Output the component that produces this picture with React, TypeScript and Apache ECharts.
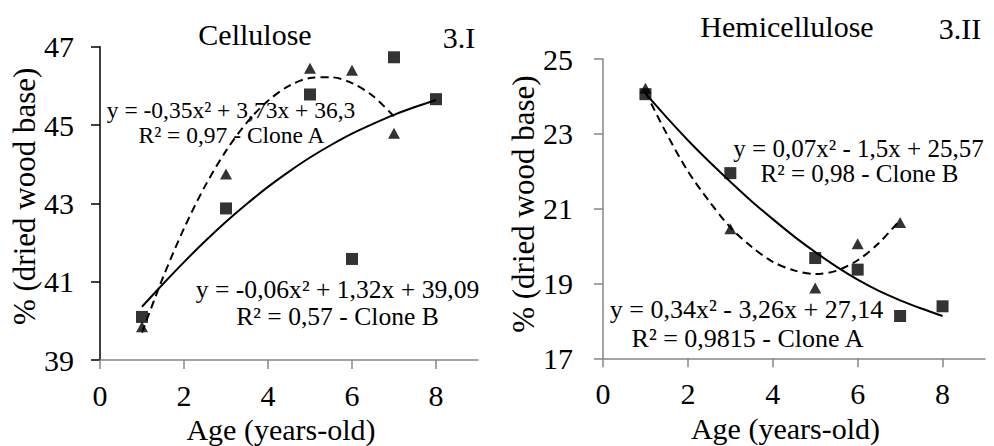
import React, { useEffect, useRef } from "react";
import * as echarts from "echarts";

const FONT = "Times New Roman, Liberation Serif, serif";

// Ages (x) of the measured points
const agesB = [1, 3, 5, 6, 7, 8];
const agesA = [1, 3, 5, 6, 7];

// Cellulose (3.I)
const celluloseB = [40.1, 42.87, 45.78, 41.58, 46.73, 45.66];
const celluloseA = [39.85, 43.75, 46.45, 46.4, 44.79];
// Hemicellulose (3.II)
const hemiB = [24.06, 21.95, 19.68, 19.37, 18.13, 18.39];
const hemiA = [24.22, 20.46, 18.88, 20.06, 20.63];

// Trend lines
const trendXB = [1, 1.5, 2, 2.5, 3, 3.5, 4, 4.5, 5, 5.5, 6, 6.5, 7, 7.5, 8];
const trendXA = [1, 1.5, 2, 2.5, 3, 3.5, 4, 4.5, 5, 5.5, 6, 6.5, 7];
const celluloseTrendB = [40.36, 40.94, 41.5, 42.03, 42.53, 42.99, 43.42, 43.81, 44.17, 44.49, 44.78, 45.03, 45.26, 45.46, 45.64];
const celluloseTrendA = [39.7, 41.11, 42.36, 43.44, 44.34, 45.07, 45.62, 46.0, 46.2, 46.22, 46.07, 45.74, 45.22];
const hemiTrendB = [24.08, 23.44, 22.83, 22.26, 21.72, 21.2, 20.72, 20.26, 19.84, 19.45, 19.1, 18.8, 18.55, 18.33, 18.13];
const hemiTrendA = [24.12, 23.0, 22.0, 21.2, 20.5, 19.98, 19.58, 19.35, 19.25, 19.34, 19.62, 20.08, 20.7];

const xTicks = [0, 2, 4, 6, 8];
const celluloseTicks = [39, 41, 43, 45, 47];
const hemiTicks = [17, 19, 21, 23, 25];

const zip = (xs: number[], ys: number[]) => xs.map((x, i) => [x, ys[i]]);

function txt(text: string, x: number, y: number, size: number) {
  return {
    type: "text",
    x,
    y,
    silent: true,
    style: {
      text,
      fill: "#000",
      fontSize: size,
      fontFamily: FONT,
      align: "center",
      verticalAlign: "middle",
      textAlign: "center",
      textVerticalAlign: "middle",
    },
  };
}

export default function App() {
  const ref = useRef<HTMLDivElement>(null);
  useEffect(() => {
    if (!ref.current) return;
    const chart = echarts.init(ref.current, undefined, { renderer: "svg" });
    const grey = "#868686";
    const xAxisBase = (gridIndex: number, color: string, gap: number, pad: number[]) => ({
      type: "value",
      gridIndex,
      min: 0,
      max: 9,
      name: "Age (years-old)",
      nameLocation: "middle",
      nameGap: gap,
      nameTextStyle: { fontFamily: FONT, fontSize: 30, color: "#000", padding: pad },
      axisLine: { show: true, lineStyle: { color, width: 1.5 } },
      axisTick: { show: true, inside: false, length: 9, customValues: xTicks, lineStyle: { color, width: 1.5 } },
      axisLabel: { customValues: xTicks, fontFamily: FONT, fontSize: 30, color: "#000", margin: 20 },
      splitLine: { show: false },
    });
    const yAxisBase = (gridIndex: number, min: number, max: number, ticks: number[], color: string, gap: number, pad: number[], margin: number) => ({
      type: "value",
      gridIndex,
      min,
      max,
      name: "% (dried wood base)",
      nameLocation: "middle",
      nameGap: gap,
      nameTextStyle: { fontFamily: FONT, fontSize: 31, color: "#000", padding: pad },
      axisLine: { show: true, lineStyle: { color, width: 1.5 } },
      axisTick: { show: true, inside: false, length: 9, customValues: ticks, lineStyle: { color, width: 1.5 } },
      axisLabel: { customValues: ticks, fontFamily: FONT, fontSize: 30, color: "#000", margin },
      splitLine: { show: false },
    });
    const lineS = (xi: number, xs: number[], ys: number[], dashed: boolean) => ({
      type: "line",
      xAxisIndex: xi,
      yAxisIndex: xi,
      data: zip(xs, ys),
      smooth: 0.3,
      symbol: "none",
      lineStyle: { color: "#000", width: 2, type: dashed ? [8, 5] : "solid" },
      z: 2,
    });
    const scatterS = (xi: number, xs: number[], ys: number[], tri: boolean) => ({
      type: "scatter",
      xAxisIndex: xi,
      yAxisIndex: xi,
      data: zip(xs, ys),
      symbol: tri ? "triangle" : "rect",
      symbolSize: tri ? [12, 11] : 12,
      itemStyle: { color: "#000" },
      z: 3,
    });
    chart.setOption({
      animation: false,
      backgroundColor: "#fff",
      textStyle: { fontFamily: FONT },
      grid: [
        { left: 100, top: 46.7, width: 378, height: 313.3, containLabel: false, outerBoundsMode: "none" },
        { left: 603, top: 59, width: 382, height: 299.3, containLabel: false, outerBoundsMode: "none" },
      ],
      xAxis: [xAxisBase(0, grey, 52, [0, 16, 0, 0]), xAxisBase(1, grey, 54, [0, 17, 0, 0])],
      yAxis: [
        yAxisBase(0, 39, 47, celluloseTicks, "#000", 57, [0, 0, 0, 14], 26),
        yAxisBase(1, 17, 25, hemiTicks, grey, 64, [0, 0, 0, 9], 30),
      ],
      series: [
        lineS(0, trendXB, celluloseTrendB, false),
        lineS(0, trendXA, celluloseTrendA, true),
        scatterS(0, agesB, celluloseB, false),
        scatterS(0, agesA, celluloseA, true),
        lineS(1, trendXB, hemiTrendB, false),
        lineS(1, trendXA, hemiTrendA, true),
        scatterS(1, agesB, hemiB, false),
        scatterS(1, agesA, hemiA, true),
      ],
      graphic: [
        txt("Cellulose", 255, 34, 30),
        txt("3.I", 459, 37, 30),
        txt("Hemicellulose", 787, 26, 30),
        txt("3.II", 960, 28, 30),
        txt("y = -0,35x² + 3,73x + 36,3", 231, 110, 23.5),
        txt("R² = 0,97 - Clone A", 231.5, 135, 23.5),
        txt("y = -0,06x² + 1,32x + 39,09", 337.5, 289, 25.6),
        txt("R² = 0,57 - Clone B", 337.5, 316, 25.6),
        txt("y = 0,07x² - 1,5x + 25,57", 858.5, 148, 25),
        txt("R² = 0,98 - Clone B", 859.5, 173, 25),
        txt("y = 0,34x² - 3,26x + 27,14", 746.5, 309, 26),
        txt("R² = 0,9815 - Clone A", 747.5, 338, 26),
      ],
    });
    return () => chart.dispose();
  }, []);
  return <div ref={ref} style={{ position: "absolute", left: 0, top: 0, width: 994, height: 446 }} />;
}
